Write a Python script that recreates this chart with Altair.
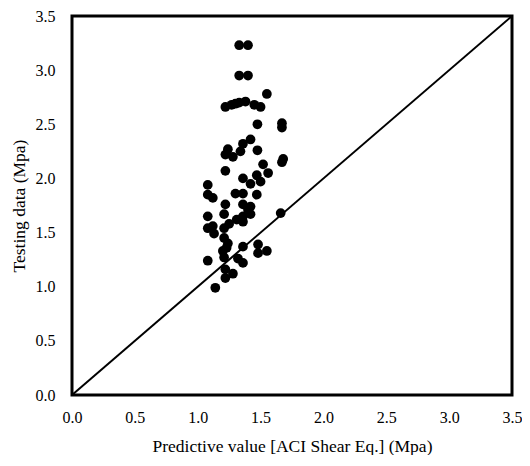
import altair as alt
import pandas as pd

# Scatter data (Predictive value, Testing data), Mpa
pred = [1.33, 1.40, 1.33, 1.40, 1.55,
        1.22, 1.27, 1.33, 1.38, 1.45, 1.50, 1.30,
        1.475, 1.67, 1.67, 1.42, 1.36, 1.24, 1.22, 1.28, 1.34, 1.475,
        1.68, 1.67, 1.52, 1.56, 1.47, 1.22, 1.36, 1.42, 1.50,
        1.08, 1.08, 1.30, 1.36, 1.47, 1.12,
        1.22, 1.36, 1.42, 1.08, 1.21, 1.36, 1.42,
        1.08, 1.13, 1.21, 1.21, 1.36, 1.66,
        1.36, 1.48, 1.55, 1.48, 1.20, 1.21, 1.08, 1.32, 1.36,
        1.22, 1.28, 1.22, 1.14, 1.12, 1.24, 1.40, 1.31, 1.25, 1.23]
test = [3.23, 3.23, 2.95, 2.95, 2.78,
        2.66, 2.68, 2.70, 2.71, 2.68, 2.66, 2.69,
        2.50, 2.51, 2.47, 2.36, 2.32, 2.27, 2.22, 2.20, 2.25, 2.26,
        2.18, 2.15, 2.13, 2.05, 2.03, 2.07, 2.00, 1.95, 1.97,
        1.94, 1.85, 1.86, 1.86, 1.85, 1.82,
        1.76, 1.76, 1.74, 1.65, 1.67, 1.65, 1.67,
        1.54, 1.49, 1.54, 1.45, 1.60, 1.68,
        1.37, 1.39, 1.33, 1.31, 1.33, 1.27, 1.24, 1.26, 1.22,
        1.16, 1.12, 1.08, 0.99, 1.56, 1.40, 1.71, 1.62, 1.58, 1.36]

line_x = [0.0, 3.5]
line_y = [0.0, 3.5]
frame_lo = [0.0]
frame_hi = [3.5]
ticks = [0.0, 0.5, 1.0, 1.5, 2.0, 2.5, 3.0, 3.5]

pts = pd.DataFrame({"pred": pred, "test": test})
diag = pd.DataFrame({"pred": line_x, "test": line_y})
frame = pd.DataFrame({"lo": frame_lo, "hi": frame_hi})

FONT = "Liberation Serif"

xscale = alt.Scale(domain=[0, 3.5], nice=False)
yscale = alt.Scale(domain=[0, 3.5], nice=False)

xaxis = alt.Axis(values=ticks, format=".1f", grid=False, ticks=False, domain=False,
                 labelFlush=False,
                 labelFont=FONT, labelFontSize=16, labelColor="black",
                 labelPadding=14, title="Predictive value [ACI Shear Eq.] (Mpa)",
                 titleFont=FONT, titleFontSize=17.5, titleFontWeight="normal",
                 titleColor="black", titlePadding=12)
yaxis = alt.Axis(values=ticks, format=".1f", grid=False, ticks=False, domain=False,
                 labelFlush=False,
                 labelFont=FONT, labelFontSize=16, labelColor="black",
                 labelPadding=17, title="Testing data (Mpa)",
                 titleFont=FONT, titleFontSize=17.5, titleFontWeight="normal",
                 titleColor="black", titlePadding=7)

line = alt.Chart(diag).mark_line(color="black", strokeWidth=2).encode(
    x=alt.X("pred:Q", scale=xscale, axis=xaxis),
    y=alt.Y("test:Q", scale=yscale, axis=yaxis),
)

points = alt.Chart(pts).mark_circle(color="black", opacity=1, size=95).encode(
    x=alt.X("pred:Q", scale=xscale),
    y=alt.Y("test:Q", scale=yscale),
)

box = alt.Chart(frame).mark_rect(fill=None, stroke="black", strokeWidth=3).encode(
    x=alt.X("lo:Q", scale=xscale),
    x2="hi:Q",
    y=alt.Y("lo:Q", scale=yscale),
    y2="hi:Q",
)

chart = alt.layer(line, points, box).properties(
    width=440, height=379,
    autosize=alt.AutoSizeParams(type="none"),
    padding={"left": 64, "top": 8, "right": 10, "bottom": 60},
).configure_view(strokeWidth=0).configure(background="white")

chart.save("out.html", embed_options={"renderer": "svg", "actions": False})
